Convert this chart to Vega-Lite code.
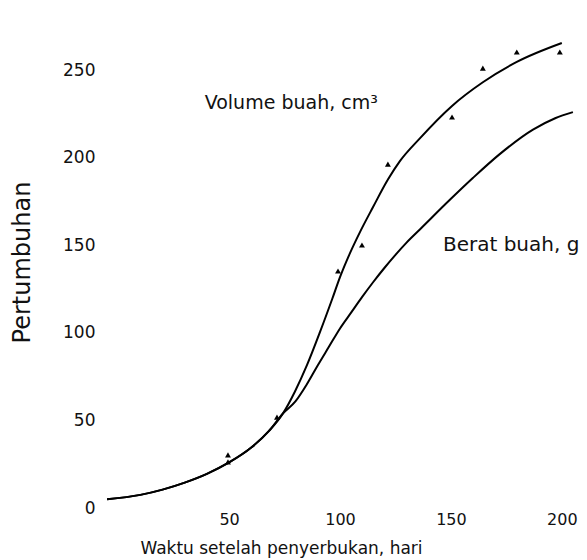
{
  "$schema": "https://vega.github.io/schema/vega-lite/v6.json",
  "autosize": {"type": "none"},
  "padding": {"left": 96, "top": 35, "right": 3, "bottom": 52},
  "width": 488,
  "height": 473,
  "background": "white",
  "config": {
    "view": {"stroke": null},
    "font": "DejaVu Sans",
    "axis": {"domain": false, "ticks": false, "grid": false, "labelColor": "#111", "titleColor": "#111", "labelFont": "DejaVu Sans", "titleFont": "DejaVu Sans", "titleFontWeight": "normal"}
  },
  "datasets": {
    "curves": [
      {"series": "Volume", "t": -5, "v": 5},
      {"series": "Volume", "t": 10, "v": 7.5},
      {"series": "Volume", "t": 20, "v": 10.5},
      {"series": "Volume", "t": 30, "v": 14.5},
      {"series": "Volume", "t": 40, "v": 19.5},
      {"series": "Volume", "t": 50, "v": 26},
      {"series": "Volume", "t": 60, "v": 34.5},
      {"series": "Volume", "t": 68, "v": 44},
      {"series": "Volume", "t": 74.3, "v": 54},
      {"series": "Volume", "t": 79.7, "v": 66.5},
      {"series": "Volume", "t": 85.1, "v": 81.5},
      {"series": "Volume", "t": 91.0, "v": 100.5},
      {"series": "Volume", "t": 96.4, "v": 119},
      {"series": "Volume", "t": 100, "v": 131.8},
      {"series": "Volume", "t": 104.5, "v": 145.5},
      {"series": "Volume", "t": 109.0, "v": 157.5},
      {"series": "Volume", "t": 114.9, "v": 171.8},
      {"series": "Volume", "t": 121.6, "v": 187.5},
      {"series": "Volume", "t": 127.0, "v": 198},
      {"series": "Volume", "t": 136.0, "v": 211},
      {"series": "Volume", "t": 150.5, "v": 229.5},
      {"series": "Volume", "t": 164.4, "v": 243},
      {"series": "Volume", "t": 179.7, "v": 254.6},
      {"series": "Volume", "t": 200, "v": 265.4},
      {"series": "Berat", "t": -5, "v": 5},
      {"series": "Berat", "t": 10, "v": 7.5},
      {"series": "Berat", "t": 20, "v": 10.5},
      {"series": "Berat", "t": 30, "v": 14.5},
      {"series": "Berat", "t": 40, "v": 19.5},
      {"series": "Berat", "t": 50, "v": 26},
      {"series": "Berat", "t": 60, "v": 34.5},
      {"series": "Berat", "t": 68, "v": 44},
      {"series": "Berat", "t": 74.3, "v": 54},
      {"series": "Berat", "t": 80, "v": 61},
      {"series": "Berat", "t": 85, "v": 70.5},
      {"series": "Berat", "t": 90, "v": 81.5},
      {"series": "Berat", "t": 95, "v": 92},
      {"series": "Berat", "t": 100, "v": 102.5},
      {"series": "Berat", "t": 105, "v": 111.5},
      {"series": "Berat", "t": 110, "v": 120.5},
      {"series": "Berat", "t": 115, "v": 129},
      {"series": "Berat", "t": 120, "v": 137},
      {"series": "Berat", "t": 125, "v": 144.5},
      {"series": "Berat", "t": 130, "v": 151.5},
      {"series": "Berat", "t": 136, "v": 159},
      {"series": "Berat", "t": 150, "v": 176.5},
      {"series": "Berat", "t": 160, "v": 188.5},
      {"series": "Berat", "t": 172, "v": 202},
      {"series": "Berat", "t": 187, "v": 216},
      {"series": "Berat", "t": 197, "v": 222.5},
      {"series": "Berat", "t": 205, "v": 226}
    ],
    "points": [
      {"t": 49.5, "v": 30.3},
      {"t": 49.5, "v": 26.3},
      {"t": 71.6, "v": 51.9},
      {"t": 99.1, "v": 135.3},
      {"t": 109.9, "v": 150.1},
      {"t": 121.6, "v": 196.3},
      {"t": 150.5, "v": 223.2},
      {"t": 164.4, "v": 251.1},
      {"t": 179.7, "v": 260.3},
      {"t": 199.1, "v": 260.3}
    ],
    "labels": [
      {"t": 39, "v": 231, "text": "Volume buah, cm³", "fs": 19},
      {"t": 146.4, "v": 150, "text": "Berat buah, g", "fs": 20}
    ]
  },
  "layer": [
    {
      "data": {"name": "curves"},
      "mark": {"type": "line", "interpolate": "monotone", "color": "#000", "strokeWidth": 2},
      "encoding": {
        "x": {"field": "t", "type": "quantitative", "scale": {"domain": [-10, 210], "nice": false, "zero": false},
              "axis": {"values": [50, 100, 150, 200], "labelFontSize": 16, "labelPadding": 3, "title": "Waktu setelah penyerbukan, hari", "titleFontSize": 17, "titleX": 185, "titleY": 40, "titleAlign": "center", "titleBaseline": "middle"}},
        "y": {"field": "v", "type": "quantitative", "scale": {"domain": [0, 270], "nice": false, "zero": false},
              "axis": {"values": [0, 50, 100, 150, 200, 250], "labelFontSize": 17, "labelPadding": 1, "title": "Pertumbuhan", "titleFontSize": 24, "titleX": -74, "titleY": 227, "titleAlign": "center", "titleBaseline": "middle"}},
        "detail": {"field": "series"}
      }
    },
    {
      "data": {"name": "points"},
      "mark": {"type": "point", "shape": "triangle-up", "filled": true, "color": "#000", "size": 35, "opacity": 1},
      "encoding": {
        "x": {"field": "t", "type": "quantitative"},
        "y": {"field": "v", "type": "quantitative"}
      }
    },
    {
      "data": {"name": "labels"},
      "mark": {"type": "text", "align": "left", "baseline": "middle", "color": "#111"},
      "encoding": {
        "x": {"field": "t", "type": "quantitative"},
        "y": {"field": "v", "type": "quantitative"},
        "text": {"field": "text"},
        "size": {"field": "fs", "type": "quantitative", "scale": null}
      }
    }
  ]
}
